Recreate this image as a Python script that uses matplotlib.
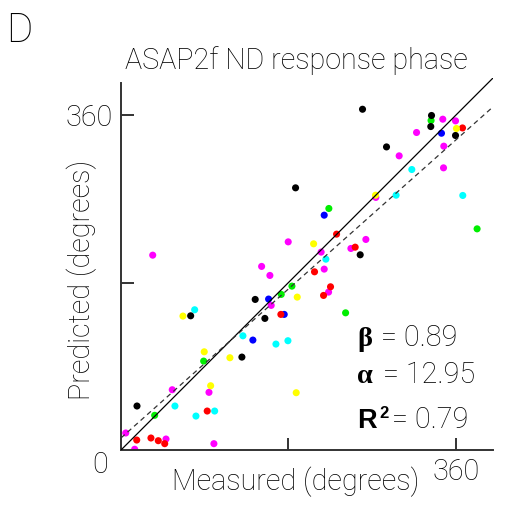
import matplotlib
matplotlib.use("Agg")
import matplotlib.pyplot as plt
import numpy as np

# ---- data (degrees) ----
black_x = [187.7, 259.7, 333.9, 333.1, 359.7, 285.5, 257.2, 144.3, 154.7, 74.9, 130.0, 17.2]
black_y = [281.9, 366.4, 359.7, 347.8, 338.2, 325.9, 209.9, 161.9, 141.5, 144.3, 99.9, 47.3]

green_x = [333.4, 223.5, 382.9, 183.8, 172.3, 241.5, 88.9, 36.2]
green_y = [354.3, 259.7, 237.8, 176.2, 167.3, 147.5, 95.6, 37.3]

magenta_x = [346.0, 359.7, 317.8, 347.1, 299.1, 346.8, 274.0, 179.8, 34.1, 263.3, 247.2, 215.2,
             151.2, 160.1, 218.5, 223.2, 161.5, 94.6, 55.1, 5.1, 48.4, 99.9, 14.7]
magenta_y = [355.7, 353.9, 341.4, 326.7, 316.3, 303.4, 271.6, 223.8, 209.5, 226.4, 216.7, 212.8,
             197.4, 187.7, 194.5, 169.8, 155.5, 62.0, 64.8, 18.3, 11.8, 6.8, 0.8]

red_x = [367.2, 231.8, 251.8, 208.1, 225.3, 217.8, 171.9, 92.7, 16.9, 32.2, 40.1, 47.0]
red_y = [346.3, 232.1, 218.1, 191.6, 175.5, 166.2, 145.8, 41.9, 10.7, 12.9, 10.0, 6.8]

blue_x = [344.6, 218.5, 158.7, 175.5, 141.8]
blue_y = [340.6, 252.5, 162.3, 145.8, 118.2]

cyan_x = [312.7, 295.8, 367.5, 220.3, 79.2, 131.1, 166.6, 179.5, 58.0, 80.6, 100.7]
cyan_y = [301.6, 274.0, 273.7, 205.2, 150.8, 122.8, 113.9, 117.5, 47.3, 36.5, 41.9]

yellow_x = [360.7, 273.7, 207.1, 189.5, 66.6, 89.5, 117.1, 96.4, 188.4]
yellow_y = [345.7, 274.0, 221.7, 164.4, 144.0, 105.6, 99.2, 69.1, 61.6]

beta = 0.89
alpha = 12.95
r2 = 0.79

title = "ASAP2f ND response phase"
xlabel = "Measured (degrees)"
ylabel = "Predicted (degrees)"
panel = "D"

# ---- figure ----
W, H = 516, 508
fig = plt.figure(figsize=(W / 100, H / 100), dpi=100)
FONT = ["Roboto", "Liberation Sans", "DejaVu Sans"]
WT = "light"
FS = 20.7
TC = "#000000"


def fx(px):
    return px / W


def fy(py):
    return 1 - py / H


ax = fig.add_axes([fx(121), fy(450), (493 - 121) / W, (450 - 78) / H])
ax.set_xlim(0, 400)
ax.set_ylim(0, 400)

series = [
    (magenta_x, magenta_y, "#ff00ff"),
    (cyan_x, cyan_y, "#00ffff"),
    (green_x, green_y, "#00ee00"),
    (blue_x, blue_y, "#0000ff"),
    (black_x, black_y, "#000000"),
    (red_x, red_y, "#ff0000"),
    (yellow_x, yellow_y, "#ffff00"),
]
for xs, ys, c in series:
    ax.scatter(xs, ys, s=26, color=c, edgecolors="none", zorder=2)

xx = np.array([0, 400])
ax.plot(xx, xx, color="black", lw=0.9, zorder=3)
ax.plot(xx, beta * xx + alpha, color="#333333", lw=0.9, ls=(0, (4, 3)), zorder=3)

for s in ["top", "right"]:
    ax.spines[s].set_visible(False)
for s in ["left", "bottom"]:
    ax.spines[s].set_color("#333333")
    ax.spines[s].set_linewidth(1.4)
ax.spines["left"].set_bounds(0, 395)

ax.set_xticks([180, 360])
ax.set_xticklabels(["", "360"])
ax.set_yticks([180, 360])
ax.set_yticklabels(["", "360"])
ax.tick_params(direction="in", length=9, width=1.4, color="#333333", pad=6,
               labelsize=FS, labelcolor=TC)
for lab in ax.get_xticklabels() + ax.get_yticklabels():
    lab.set_family(FONT)
    lab.set_weight(WT)

fig.text(fx(100), fy(473), "0", ha="center", va="baseline", fontsize=FS,
         family=FONT, weight=WT, color=TC)

fig.text(fx(296), fy(69), title, ha="center", va="baseline", fontsize=FS,
         family=FONT, weight=WT, color=TC)
fig.text(fx(296), fy(490), xlabel, ha="center", va="baseline", fontsize=FS,
         family=FONT, weight=WT, color=TC)
fig.text(fx(82), fy(280), ylabel, ha="center", va="center", rotation=90,
         fontsize=FS, family=FONT, weight=WT, color=TC)
fig.text(fx(6), fy(42), panel, ha="left", va="baseline", fontsize=29,
         family=FONT, weight=WT, color=TC)

SERIF = ["Liberation Serif", "DejaVu Serif"]
# beta line
fig.text(fx(357), fy(346), "\u03b2", ha="left", va="baseline", fontsize=20.5,
         family=SERIF, weight="bold", color=TC)
fig.text(fx(381), fy(346), f"= {beta:.2f}", ha="left", va="baseline", fontsize=FS,
         family=FONT, weight=WT, color=TC)
# alpha line
fig.text(fx(357), fy(383), "\u03b1", ha="left", va="baseline", fontsize=20.5,
         family=SERIF, weight="bold", color=TC)
fig.text(fx(383), fy(383), f"= {alpha:.2f}", ha="left", va="baseline", fontsize=FS,
         family=FONT, weight=WT, color=TC)
# R^2 line
fig.text(fx(357), fy(428), "R", ha="left", va="baseline", fontsize=19.5,
         family=["Liberation Sans", "DejaVu Sans"], weight="bold", color=TC)
fig.text(fx(379), fy(418), "2", ha="left", va="baseline", fontsize=12,
         family=["Liberation Sans", "DejaVu Sans"], weight="bold", color=TC)
fig.text(fx(392), fy(428), f"= {r2:.2f}", ha="left", va="baseline", fontsize=FS,
         family=FONT, weight=WT, color=TC)

fig.savefig("out.png", dpi=100)
